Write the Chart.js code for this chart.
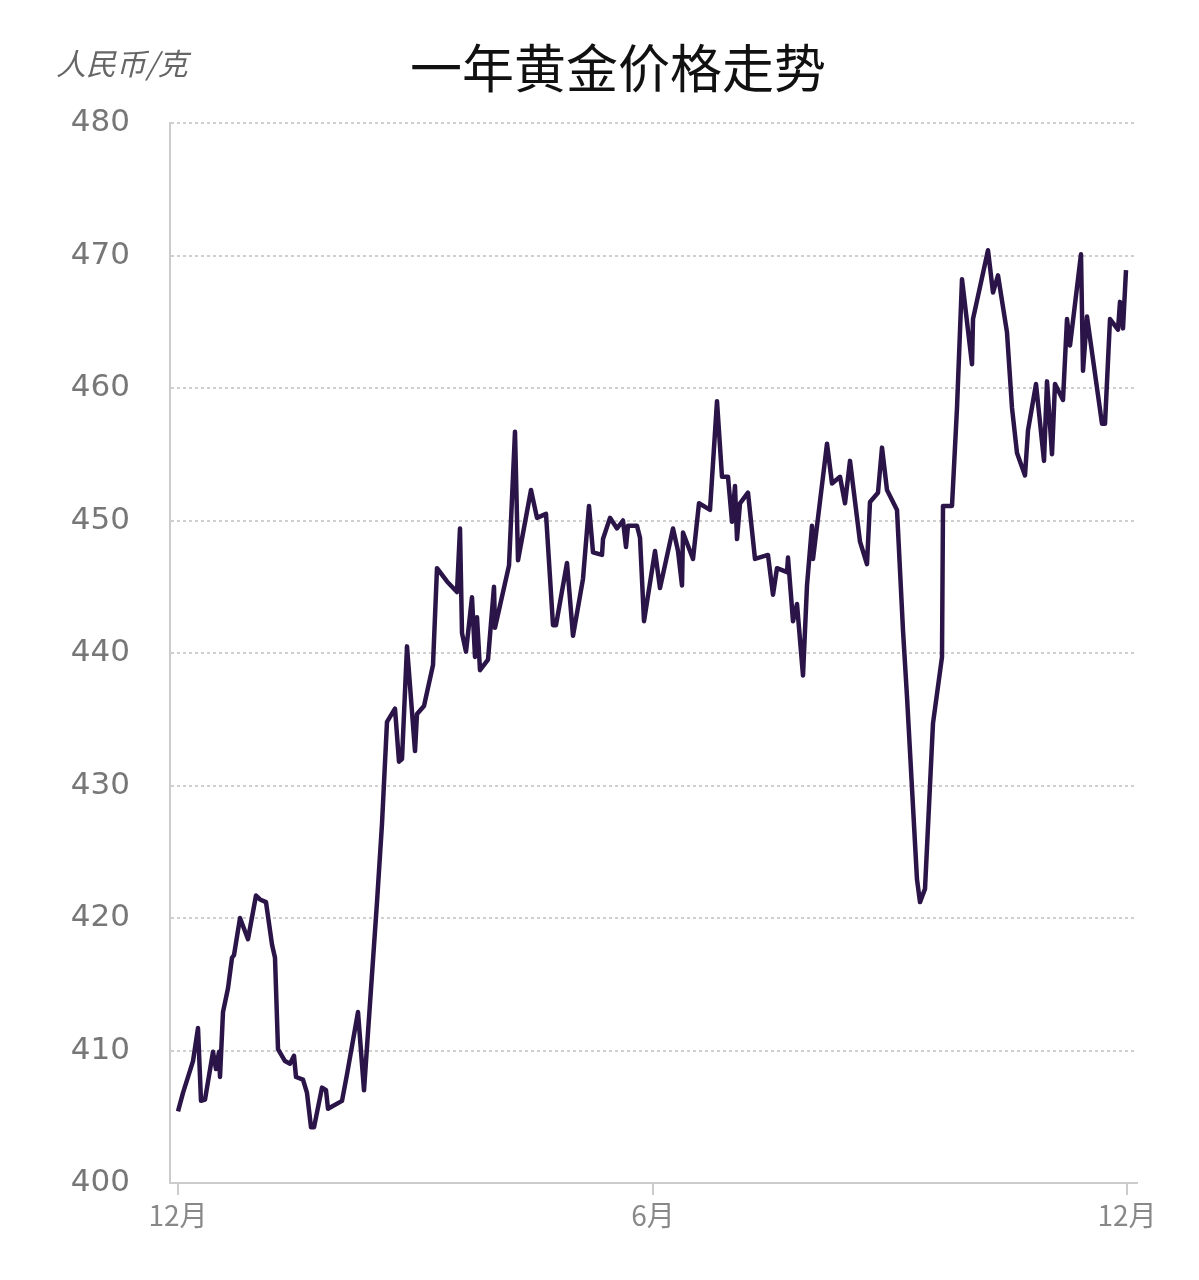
<!DOCTYPE html>
<html>
<head>
<meta charset="utf-8">
<script src="https://cdn.jsdelivr.net/npm/chart.js@4/dist/chart.umd.min.js"></script>
<style>
  html, body { margin: 0; padding: 0; background: #fff; }
  #wrap { position: relative; width: 1199px; height: 1280px; }
  #title { position: absolute; left: 0; width: 1236px; top: 28px; text-align: center; font: 52px "Noto Sans CJK SC", sans-serif; color: #111; }
  #unit { position: absolute; left: 56px; top: 40px; font: italic 30px "Noto Sans CJK SC", sans-serif; color: #666; }
</style>
</head>
<body>
<div id="wrap">
  <canvas id="c" width="1199" height="1280"></canvas>
  <div id="unit">人民币/克</div>
  <div id="title">一年黄金价格走势</div>
</div>
<script>
// horizontal position along the year (0 = first 12月, 949 = last 12月)
var positions = [0,5,15,20,23,27,35,38,41,42,45,50,54,56,62,70,78,82,88,94,97,100,107,112,116,118,125,129,133,136,144,148,150,164,169,180,186,199,204,209,217,221,224,229,237,239,246,255,259,269,279,282,284,288,294,297,299,302,310,316,317,331,337,340,353,359,368,375,378,389,395,405,411,415,424,425,432,439,445,448,450,459,
  462,466,477,482,495,500,504,505,515,521,532,539,544,550,554,557,559,562,570,577,590,595,599,609,610,615,619,625,629,634,635,649,654,662,667,672,682,689,692,700,704,709,719,725,729,739,742,747,755,764,765,774,779,784,794,795,810,815,820,829,834,839,847,850,858,866,869,874,877,885,889,892,903,905,909,924,927,932,940,942,945,948];
var prices = [405.4,406.8,409.2,411.7,406.2,406.3,409.9,408.6,409.9,408.0,412.9,414.7,417.0,417.2,420.0,418.4,421.7,421.4,421.2,418.0,417.0,410.1,409.2,409.0,409.6,408.0,407.8,406.8,404.2,404.2,407.2,407.0,405.6,406.2,408.2,412.9,407.0,421.2,427.1,434.8,435.8,431.8,432.0,440.5,432.6,435.4,436.0,439.1,446.4,445.4,444.6,449.4,441.5,440.1,444.2,439.7,442.7,438.7,439.5,445.0,441.9,446.6,456.7,447.0,452.3,450.2,450.5,442.1,442.1,446.8,441.3,445.6,451.1,447.6,447.4,448.6,450.2,449.4,450.0,448.0,449.6,449.6,
  448.7,442.4,447.7,444.9,449.4,447.7,445.1,449.1,447.1,451.3,450.8,459.0,453.3,453.3,449.9,452.6,448.6,451.3,452.1,447.1,447.4,444.4,446.4,446.1,447.2,442.4,443.7,438.3,445.1,449.6,447.1,455.8,452.8,453.3,451.3,454.5,448.4,446.7,451.4,452.1,455.5,452.3,450.8,441.7,436.7,422.9,421.2,422.2,434.7,439.7,451.1,451.1,458.5,468.2,461.8,465.2,470.4,467.2,468.5,464.2,458.5,455.1,453.4,456.8,460.3,454.5,460.5,455.0,460.3,459.1,465.2,463.2,470.1,461.3,465.4,457.3,457.3,465.2,464.4,466.5,464.5,468.9];
var yTicks = [400, 410, 420, 430, 440, 450, 460, 470, 480];
var xTickPos = [0, 475, 949];
var xTickLabels = ["12月", "6月", "12月"];

var points = positions.map(function(p, i) { return { x: p, y: prices[i] }; });

new Chart(document.getElementById("c"), {
    type: "line",
    data: { datasets: [{ data: points, borderColor: "#2b1548", borderWidth: 4.5, pointRadius: 0, tension: 0, fill: false, borderJoinStyle: "round" }] },
    options: {
        responsive: false,
        animation: false,
        layout: { padding: { top: 123, right: 62, left: 0, bottom: 0 } },
        plugins: { legend: { display: false }, tooltip: { enabled: false } },
        scales: {
            x: {
                type: "linear", min: -8, max: 959,
                afterBuildTicks: function(ax) { ax.ticks = xTickPos.map(function(v) { return { value: v }; }); },
                afterFit: function(ax) { ax.height = 97; },
                ticks: { color: "#888", font: { size: 28, family: "Noto Sans CJK SC" }, padding: 4,
                    callback: function(v) { var i = xTickPos.indexOf(v); return i >= 0 ? xTickLabels[i] : ""; } },
                grid: { drawOnChartArea: false, color: "#ccc", tickLength: 12, lineWidth: 2 },
                border: { color: "#ccc", width: 2 }
            },
            y: {
                min: 400, max: 480,
                afterBuildTicks: function(ax) { ax.ticks = yTicks.map(function(v) { return { value: v }; }); },
                afterFit: function(ax) { ax.width = 170; },
                ticks: { color: "#777", font: { size: 31, family: "DejaVu Sans" }, padding: 40 },
                grid: { color: "#cfcfcf", lineWidth: 2, drawTicks: false },
                border: { color: "#ccc", width: 2, dash: [3, 3] }
            }
        }
    }
});
</script>
</body>
</html>
